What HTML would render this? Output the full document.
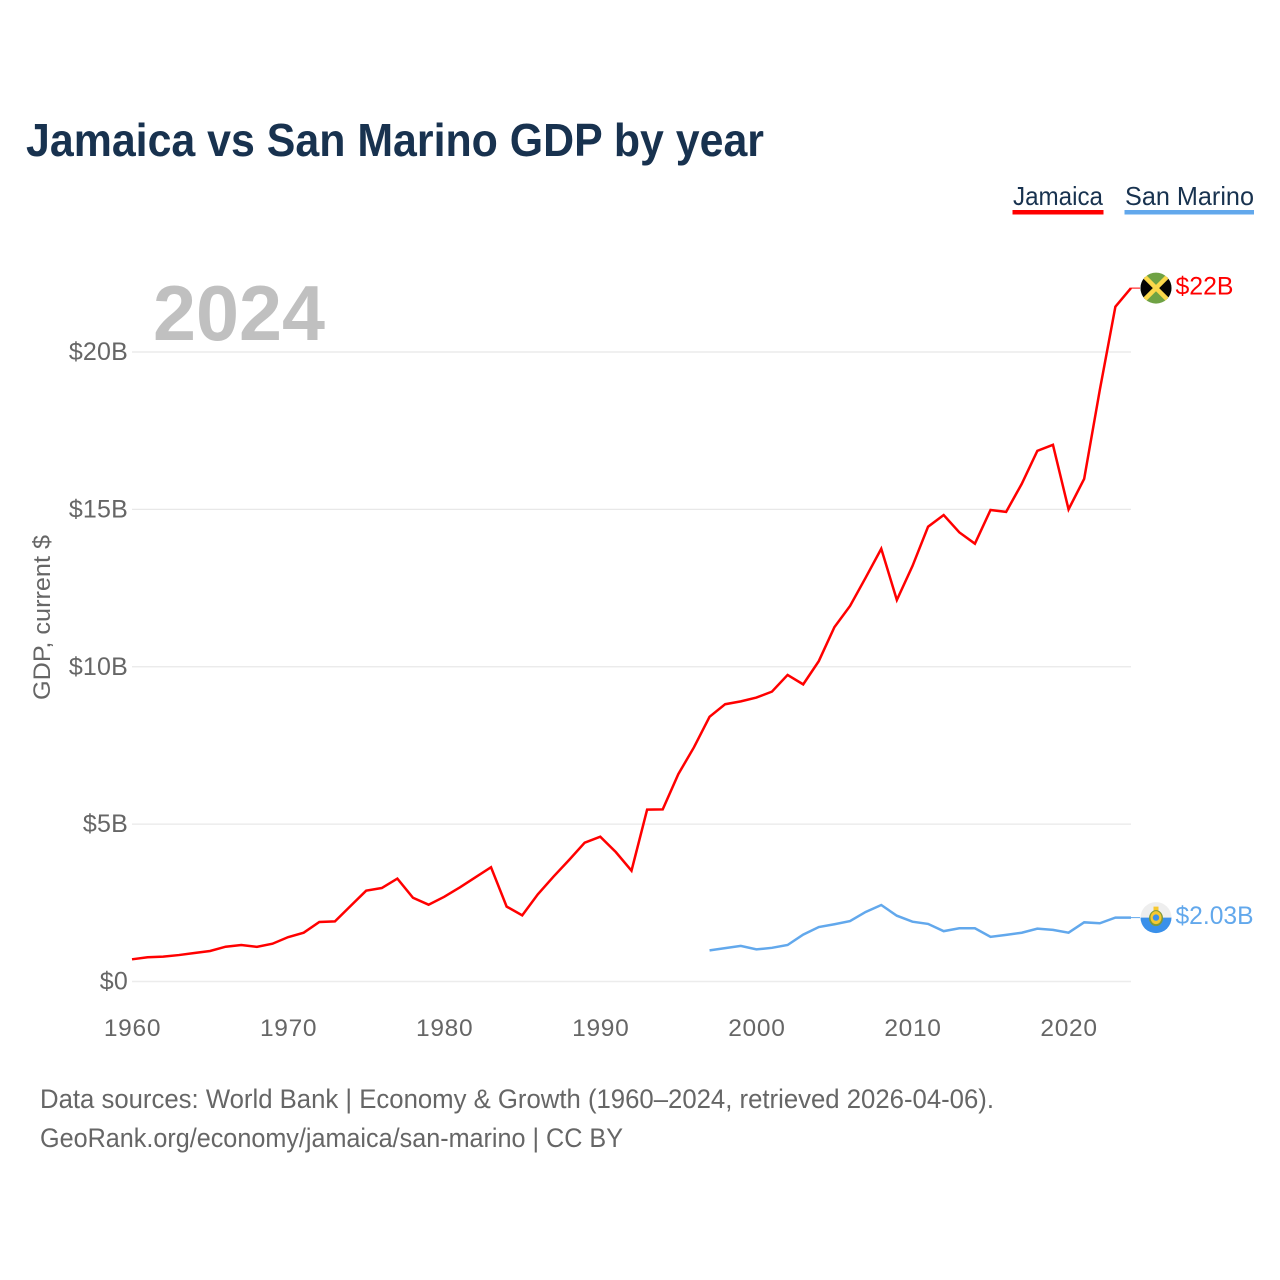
<!DOCTYPE html>
<html lang="en">
<head>
<meta charset="utf-8">
<title>Jamaica vs San Marino GDP by year</title>
<style>
html,body{margin:0;padding:0;background:#fff;}
svg{display:block;font-family:"Liberation Sans",sans-serif;}
</style>
</head>
<body>
<svg id="chart" width="1280" height="1280" viewBox="0 0 1280 1280" xmlns="http://www.w3.org/2000/svg">
  <defs>
    <clipPath id="clip-jm"><circle id="clip-jm-circle" cx="0" cy="0" r="15.5"></circle></clipPath>
    <clipPath id="clip-sm"><circle id="clip-sm-circle" cx="0" cy="0" r="15.5"></circle></clipPath>
  </defs>
  <text x="26" y="156" font-size="46" font-weight="700" fill="#18324f" textLength="738" lengthAdjust="spacingAndGlyphs">Jamaica vs San Marino GDP by year</text>

  <g>
    <g>
      <text x="1013" y="205" font-size="26" fill="#18324f" textLength="90" lengthAdjust="spacingAndGlyphs">Jamaica</text>
      <rect x="1012.5" y="210" width="91" height="4.5" fill="#ff0000"></rect>
    </g>
    <g>
      <text x="1125" y="205" font-size="26" fill="#18324f" textLength="129" lengthAdjust="spacingAndGlyphs">San Marino</text>
      <rect x="1124.5" y="210" width="129.5" height="4.5" fill="#62a8ec"></rect>
    </g>
  </g>

  <text x="153" y="340" font-size="78" font-weight="700" fill="#c0c0c0" textLength="172" lengthAdjust="spacingAndGlyphs">2024</text>
  <text transform="translate(50,700) rotate(-90)" font-size="24" fill="#666666" textLength="165" lengthAdjust="spacingAndGlyphs">GDP, current $</text>

  <g id="grid"></g>
  <g id="yticks"></g>
  <g id="xticks"></g>
  <g id="series"></g>
  <g id="ends"></g>

  <text x="40" y="1108" font-size="26.5" fill="#666666" textLength="954" lengthAdjust="spacingAndGlyphs">Data sources: World Bank | Economy &amp; Growth (1960–2024, retrieved 2026-04-06).</text>
  <text x="40" y="1147" font-size="26.5" fill="#666666" textLength="583" lengthAdjust="spacingAndGlyphs">GeoRank.org/economy/jamaica/san-marino | CC BY</text>
</svg>
<script>
const jamaicaYears = [1960,1961,1962,1963,1964,1965,1966,1967,1968,1969,1970,1971,1972,1973,1974,1975,1976,1977,1978,1979,1980,1981,1982,1983,1984,1985,1986,1987,1988,1989,1990,1991,1992,1993,1994,1995,1996,1997,1998,1999,2000,2001,2002,2003,2004,2005,2006,2007,2008,2009,2010,2011,2012,2013,2014,2015,2016,2017,2018,2019,2020,2021,2022,2023,2024];
const jamaicaValues = [0.705,0.77,0.79,0.84,0.905,0.97,1.105,1.16,1.10,1.20,1.41,1.55,1.89,1.91,2.40,2.885,2.97,3.27,2.66,2.44,2.69,2.99,3.31,3.63,2.38,2.10,2.77,3.33,3.86,4.41,4.60,4.11,3.52,5.46,5.47,6.59,7.44,8.41,8.81,8.90,9.02,9.21,9.74,9.44,10.18,11.26,11.93,12.83,13.75,12.12,13.20,14.45,14.82,14.27,13.91,14.98,14.92,15.81,16.86,17.05,15.00,15.97,18.79,21.44,22.03];
const sanMarinoYears = [1997,1998,1999,2000,2001,2002,2003,2004,2005,2006,2007,2008,2009,2010,2011,2012,2013,2014,2015,2016,2017,2018,2019,2020,2021,2022,2023,2024];
const sanMarinoValues = [0.99,1.06,1.13,1.02,1.07,1.16,1.49,1.73,1.82,1.92,2.21,2.43,2.09,1.90,1.83,1.60,1.69,1.69,1.42,1.48,1.55,1.68,1.64,1.55,1.88,1.85,2.03,2.03];
const yTickValues = [0,5,10,15,20];
const yTickLabels = ["$0","$5B","$10B","$15B","$20B"];
const xTickValues = [1960,1970,1980,1990,2000,2010,2020];
const xTickLabels = ["1960","1970","1980","1990","2000","2010","2020"];
const jamaicaEndLabel = "$22B";
const sanMarinoEndLabel = "$2.03B";

const NS = "http://www.w3.org/2000/svg";
const X0 = 132, X1 = 1131, YEAR0 = 1960, YEAR1 = 2024;
const Y0 = 981.5, Y20 = 352;
function xScale(year){ return X0 + (year - YEAR0) * (X1 - X0) / (YEAR1 - YEAR0); }
function yScale(v){ return Y0 - v * (Y0 - Y20) / 20; }
function make(tag, attrs, parent, text){
  const el = document.createElementNS(NS, tag);
  for (const k in attrs) el.setAttribute(k, attrs[k]);
  if (text !== undefined) el.textContent = text;
  parent.appendChild(el);
  return el;
}
const gridG = document.getElementById('grid');
const yG = document.getElementById('yticks');
const xG = document.getElementById('xticks');
const seriesG = document.getElementById('series');
const endsG = document.getElementById('ends');

yTickValues.forEach(function(v, i){
  const line = make('line', {x1:X0, x2:X1, y1:yScale(v), y2:yScale(v), stroke: v === 0 ? '#ececec' : '#e8e8e8', 'stroke-width': v === 0 ? 1.5 : 1.2}, gridG);
  
  
  const t = make('text', {x:128, y:yScale(v) + 8, 'text-anchor':'end', 'font-size':25, fill:'#666666', 'letter-spacing':'0.2'}, yG, yTickLabels[i]);
  
  
});
xTickValues.forEach(function(v, i){
  const t = make('text', {x:xScale(v) + 0.5, y:1036, 'text-anchor':'middle', 'font-size':24.5, fill:'#666666', 'letter-spacing':'0.7'}, xG, xTickLabels[i]);
  
  
});

function pointsOf(years, values){
  return years.map(function(y, i){ return xScale(y).toFixed(2) + ',' + yScale(values[i]).toFixed(2); }).join(' ');
}
const jmLine = make('polyline', {points:pointsOf(jamaicaYears, jamaicaValues), fill:'none', stroke:'#ff0000', 'stroke-width':2.5, 'stroke-linejoin':'miter'}, seriesG);


const smLine = make('polyline', {points:pointsOf(sanMarinoYears, sanMarinoValues), fill:'none', stroke:'#62a8ec', 'stroke-width':2.5, 'stroke-linejoin':'miter'}, seriesG);



const FLAG_X = 1156;
const jmLast = yScale(jamaicaValues[jamaicaValues.length - 1]);
const smLast = yScale(sanMarinoValues[sanMarinoValues.length - 1]);

const jmConn = make('line', {x1:X1, x2:1140, y1:jmLast, y2:jmLast, stroke:'#ff0000', 'stroke-width':1}, endsG);


const smConn = make('line', {x1:X1, x2:1140, y1:smLast, y2:smLast, stroke:'#62a8ec', 'stroke-width':1}, endsG);



/* Jamaica flag */
const jmFlag = make('g', {transform:'translate(' + FLAG_X + ',' + jmLast + ')', 'clip-path':'url(#clip-jm)'}, endsG);


make('rect', {x:-16, y:-16, width:32, height:32, fill:'#6fa244'}, jmFlag);
make('polygon', {points:'-16,-16 0,0 -16,16', fill:'#050505'}, jmFlag);
make('polygon', {points:'16,-16 0,0 16,16', fill:'#050505'}, jmFlag);
make('line', {x1:-16, y1:-16, x2:16, y2:16, stroke:'#fbd84b', 'stroke-width':4.5}, jmFlag);
make('line', {x1:16, y1:-16, x2:-16, y2:16, stroke:'#fbd84b', 'stroke-width':4.5}, jmFlag);

/* San Marino flag */
const smFlag = make('g', {transform:'translate(' + FLAG_X + ',' + smLast + ')', 'clip-path':'url(#clip-sm)'}, endsG);


make('rect', {x:-16, y:-16, width:32, height:16, fill:'#eeeeee'}, smFlag);
make('rect', {x:-16, y:0, width:32, height:16, fill:'#3a90ea'}, smFlag);
make('rect', {x:-2.5, y:-11, width:5, height:5, fill:'#f6c830'}, smFlag);
make('ellipse', {cx:0, cy:0.5, rx:7, ry:8, fill:'#7d9a3a'}, smFlag);
make('ellipse', {cx:0, cy:0, rx:5.5, ry:6.5, fill:'#f6c830'}, smFlag);
make('circle', {cx:0, cy:0, r:3.2, fill:'#3a90ea'}, smFlag);

const jmLabel = make('text', {x:1175.5, y:jmLast + 6.5, 'font-size':25, fill:'#ff0000', textLength:58, lengthAdjust:'spacingAndGlyphs'}, endsG, jamaicaEndLabel);


const smLabel = make('text', {x:1175.5, y:smLast + 6.5, 'font-size':25, fill:'#62a8ec', textLength:78, lengthAdjust:'spacingAndGlyphs'}, endsG, sanMarinoEndLabel);


</script>
</body>
</html>
